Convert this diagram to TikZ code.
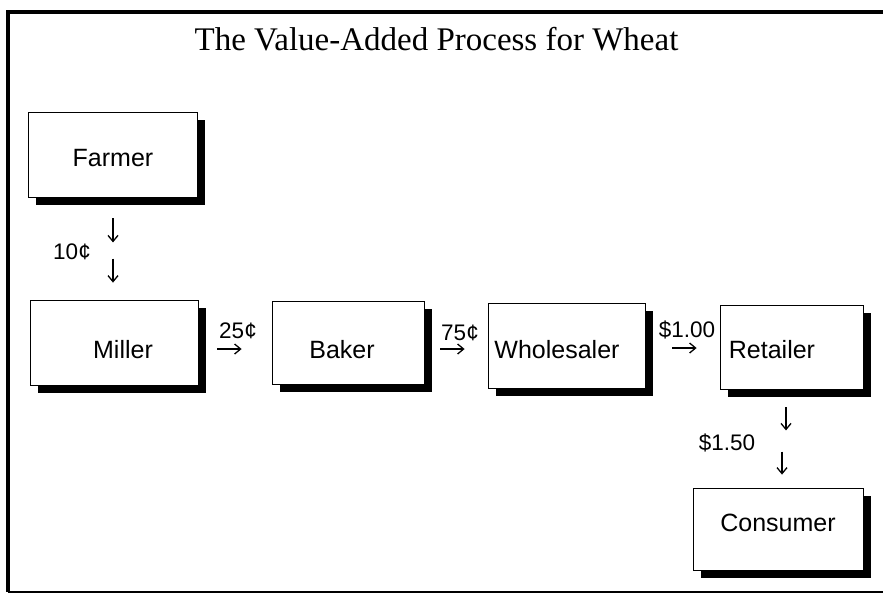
\documentclass[tikz,border=0pt]{standalone}
\usepackage{fontspec}
\setmainfont{Liberation Serif}
\newfontfamily\arialfont{Liberation Sans}
\usetikzlibrary{calc,shadows,arrows.meta}

\tikzset{
  stage/.style={draw, line width=0.8pt, fill=white, inner sep=0pt,
    drop shadow={shadow xshift=8pt, shadow yshift=-8pt, fill=black, opacity=1}},
  stagetext/.style={font=\arialfont\fontsize{25}{30}\selectfont, inner sep=0pt},
  price/.style={font=\arialfont\fontsize{22.5}{27}\selectfont, inner sep=0pt},
  pricearrow/.style={line width=1.3pt, -{Straight Barb[length=6pt,width=10pt]}}
}

\begin{document}
\begin{tikzpicture}[x=1pt,y=-1pt]

\fill[white] (0,0) rectangle (883,598);
\useasboundingbox (0,0) rectangle (883,598);

% Cadre
\draw[line width=3.5pt] (883,12) -- (8,12) -- (8,592);
\draw[line width=1.5pt] (8,592) -- (883,592);

% Titre
\node[font=\fontsize{33}{40}\selectfont, inner sep=0pt] (title) at (436.5,39) {The Value-Added Process for Wheat};

% Farmer
\node[stage, minimum width=169pt, minimum height=85pt] (farmer) at (112.5,154.5) {};
\node[stagetext] (farmer-text) at ($(farmer)+(0.5,3.5)$) {Farmer};

% Miller
\node[stage, minimum width=168pt, minimum height=85pt] (miller) at (114,342.5) {};
\node[stagetext] (miller-text) at ($(miller)+(9,7.5)$) {Miller};

% Baker
\node[stage, minimum width=152pt, minimum height=83pt] (baker) at (348,342.5) {};
\node[stagetext] (baker-text) at ($(baker)+(-6,7.5)$) {Baker};

% Wholesaler
\node[stage, minimum width=157pt, minimum height=85pt] (wholesaler) at (566.5,345.5) {};
\node[stagetext] (wholesaler-text) at ($(wholesaler)+(-9.5,4.5)$) {Wholesaler};

% Retailer
\node[stage, minimum width=143pt, minimum height=84pt] (retailer) at (791.5,347) {};
\node[stagetext] (retailer-text) at ($(retailer)+(-19.5,3)$) {Retailer};

% Consumer
\node[stage, minimum width=170pt, minimum height=82pt] (consumer) at (778,529) {};
\node[stagetext] (consumer-text) at ($(consumer)+(0,-6)$) {Consumer};

% Prix : Farmer -> Miller
\draw[pricearrow] ($(farmer.south)+(0.5,21)$) -- ($(farmer.south)+(0.5,45)$);
\node[price] (p10) at (72,252) {10¢};
\draw[pricearrow] ($(miller.north)+(-1,-41)$) -- ($(miller.north)+(-1,-17)$);

% Prix : Miller -> Baker
\node[price] (p25) at (238,331) {25¢};
\draw[pricearrow] ($(miller.east)+(19,6.5)$) -- ($(baker.west)+(-30,6.5)$);

% Prix : Baker -> Wholesaler
\node[price] (p75) at (460,333) {75¢};
\draw[pricearrow] ($(baker.east)+(16,6.5)$) -- ($(wholesaler.west)+(-23,3.5)$);

% Prix : Wholesaler -> Retailer
\node[price] (p100) at (687,330) {\$1.00};
\draw[pricearrow] ($(wholesaler.east)+(27,2.5)$) -- ($(retailer.west)+(-23,1)$);

% Prix : Retailer -> Consumer
\draw[pricearrow] ($(retailer.south)+(-5.5,18)$) -- ($(retailer.south)+(-5.5,41)$);
\node[price] (p150) at (727,443) {\$1.50};
\draw[pricearrow] ($(consumer.north)+(4,-36)$) -- ($(consumer.north)+(4,-13)$);

\end{tikzpicture}
\end{document}
